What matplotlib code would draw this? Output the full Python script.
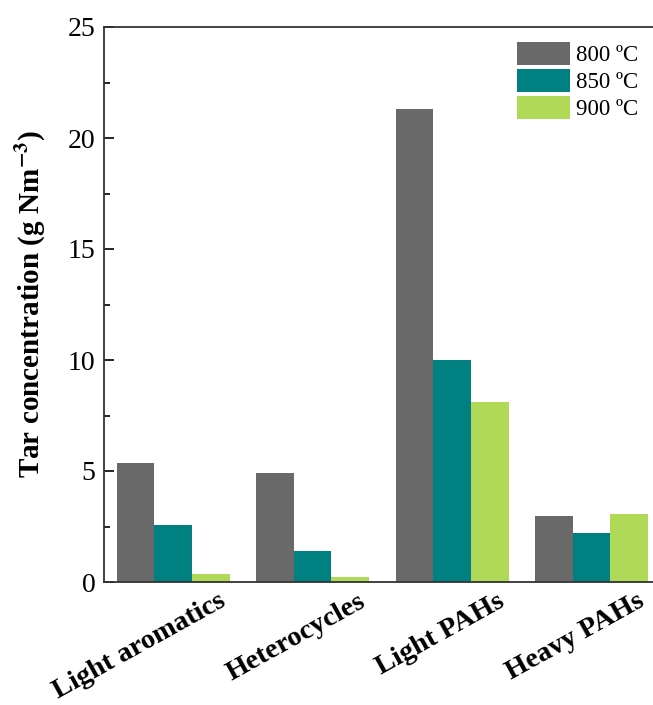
import numpy as np
import matplotlib
matplotlib.use("Agg")
import matplotlib.pyplot as plt
import matplotlib.transforms as mtransforms
from matplotlib.ticker import MultipleLocator

plt.rcParams['font.family'] = ['Liberation Serif', 'DejaVu Serif']
plt.rcParams['mathtext.fontset'] = 'stix'

#%% Data
categories = ['Light aromatics', 'Heterocycles', 'Light PAHs', 'Heavy PAHs']
temps = ['800 \u00baC', '850 \u00baC', '900 \u00baC']
t800 = [5.35, 4.92, 21.3, 2.97]
t850 = [2.55, 1.40, 10.0, 2.21]
t900 = [0.38, 0.23, 8.1, 3.06]
colors = ['#696969', '#008080', '#AFD957']

#%% Plot
fig = plt.figure(figsize=(6.53, 7.05), dpi=100)
ax = fig.add_axes([104/653, 123/705, 1 - 104/653, 555/705])

x = np.arange(1, len(categories) + 1)
w = 0.27
for i, (vals, lab) in enumerate(zip([t800, t850, t900], temps)):
    ax.bar(x + (i - 1) * w, vals, w, color=colors[i], label=lab,
           edgecolor='none', zorder=2)

ax.set_xlim(0.505, 4.44)
ax.set_ylim(0, 25)
ax.yaxis.set_major_locator(MultipleLocator(5))
ax.yaxis.set_minor_locator(MultipleLocator(2.5))
ax.tick_params(axis='y', which='major', direction='in', length=7, width=1.2,
               labelsize=20, pad=6)
ax.tick_params(axis='y', which='minor', direction='in', length=4, width=1.2)
ax.tick_params(axis='x', length=0, labelsize=20.5, pad=5)

ax.set_xticks(x)
labels = ax.set_xticklabels(categories, rotation=29, ha='right', fontweight='bold')
offset = mtransforms.ScaledTranslation(0.57, 0, fig.dpi_scale_trans)
for t in labels:
    t.set_transform(t.get_transform() + offset)

ax.set_ylabel(r'Tar concentration (g Nm$^{\mathbf{-3}}$)', fontsize=21,
              fontweight='bold', labelpad=14)

for s in ['left', 'bottom', 'top']:
    ax.spines[s].set_linewidth(1.3)
    ax.spines[s].set_color('#333333')
ax.spines['right'].set_visible(False)

ax.legend(loc='upper left', bbox_to_anchor=(0.752, 0.973), frameon=False,
          fontsize=16.5, borderpad=0, borderaxespad=0, handlelength=2.3,
          handleheight=1.15, labelspacing=0.12, handletextpad=0.28)

fig.savefig('out.png', dpi=100)
